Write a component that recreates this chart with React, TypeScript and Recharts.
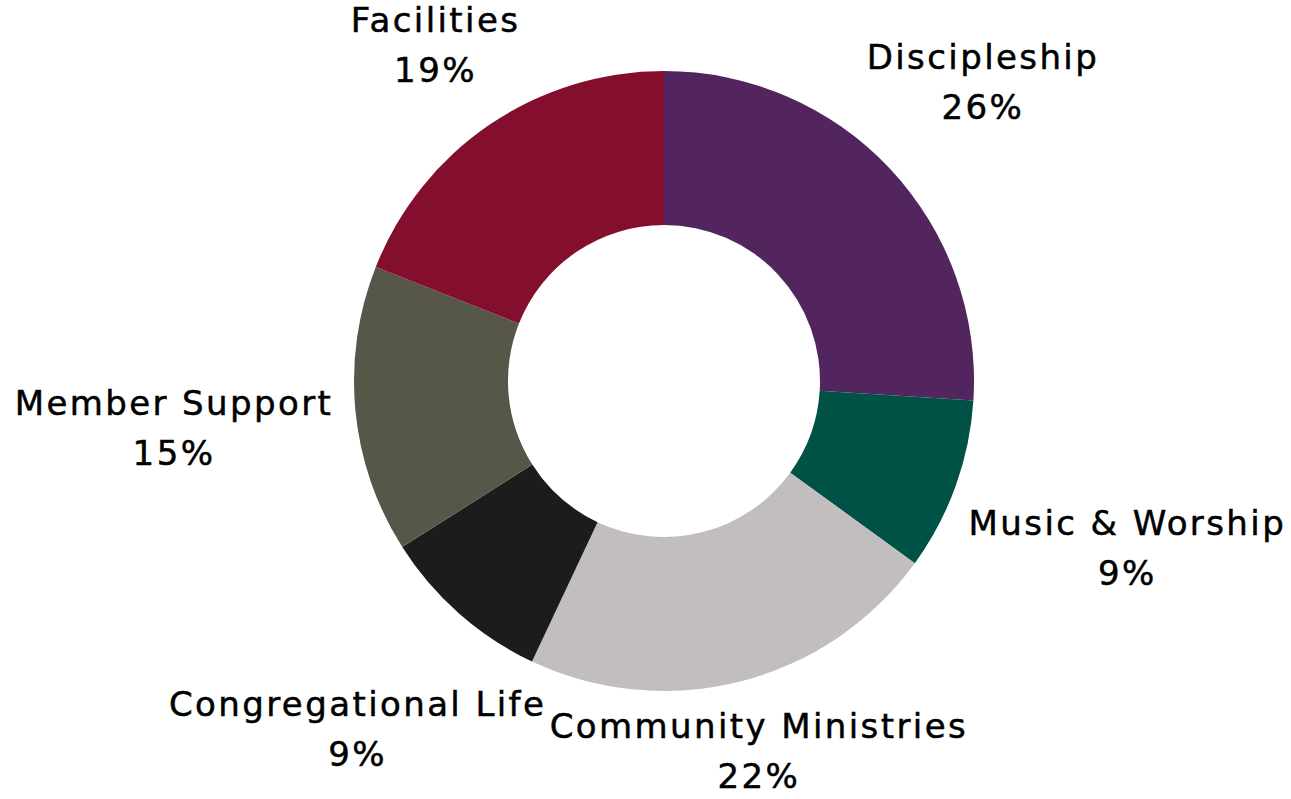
import { Cell, Pie, PieChart } from 'recharts'

const categories = [
  'Discipleship',
  'Music & Worship',
  'Community Ministries',
  'Congregational Life',
  'Member Support',
  'Facilities',
]
const shares = [26, 9, 22, 9, 15, 19]
const colors = ['#52255f', '#005246', '#c3bebe', '#1c1c1c', '#575749', '#840e2d']

const data = categories.map((name, i) => ({ name, value: shares[i] }))

const FONT = "'DejaVu Sans', sans-serif"
const FONT_SIZE = 34
const LETTER = 2.4
const CAP = 25
const LINE_GAP = 50
const GAP = 22

let ctx: CanvasRenderingContext2D | null = null
function textWidth(s: string) {
  if (!ctx) ctx = document.createElement('canvas').getContext('2d')
  if (!ctx) return s.length * FONT_SIZE * 0.6
  ctx.font = `${FONT_SIZE}px ${FONT}`
  return ctx.measureText(s).width + LETTER * (s.length - 1)
}

// push the label box out along the mid angle until its nearest point clears the ring
function renderLabel(props: any) {
  const { cx, cy, midAngle, outerRadius, name, value } = props
  const rad = (-midAngle * Math.PI) / 180
  const ux = Math.cos(rad)
  const uy = Math.sin(rad)
  const pct = `${value}%`
  const hw = Math.max(textWidth(name), textWidth(pct)) / 2
  const hh = (CAP + LINE_GAP) / 2
  const target = outerRadius + GAP
  let lo = 0
  let hi = 1200
  for (let k = 0; k < 40; k++) {
    const d = (lo + hi) / 2
    const dx = Math.max(Math.abs(d * ux) - hw, 0)
    const dy = Math.max(Math.abs(d * uy) - hh, 0)
    if (Math.sqrt(dx * dx + dy * dy) < target) lo = d
    else hi = d
  }
  const bx = cx + lo * ux
  const top = cy + lo * uy - hh
  return (
    <text
      x={bx}
      textAnchor="middle"
      fill="#000"
      stroke="#000"
      strokeWidth={0.5}
      fontFamily={FONT}
      fontSize={FONT_SIZE}
      letterSpacing={LETTER}
    >
      <tspan x={bx} y={top + CAP}>{name}</tspan>
      <tspan x={bx} y={top + CAP + LINE_GAP}>{pct}</tspan>
    </text>
  )
}

export default function App() {
  return (
    <div style={{ position: 'absolute', left: 0, top: 0, background: '#fff' }}>
      <PieChart
        width={1291}
        height={799}
        margin={{ top: 0, right: 0, bottom: 0, left: 0 }}
      >
        <Pie
          data={data}
          dataKey="value"
          nameKey="name"
          cx={664}
          cy={381}
          innerRadius={156}
          outerRadius={310}
          startAngle={90}
          endAngle={-270}
          stroke="none"
          label={renderLabel}
          labelLine={false}
          isAnimationActive={false}
        >
          {data.map((d, i) => (
            <Cell key={d.name} fill={colors[i]} />
          ))}
        </Pie>
      </PieChart>
    </div>
  )
}
